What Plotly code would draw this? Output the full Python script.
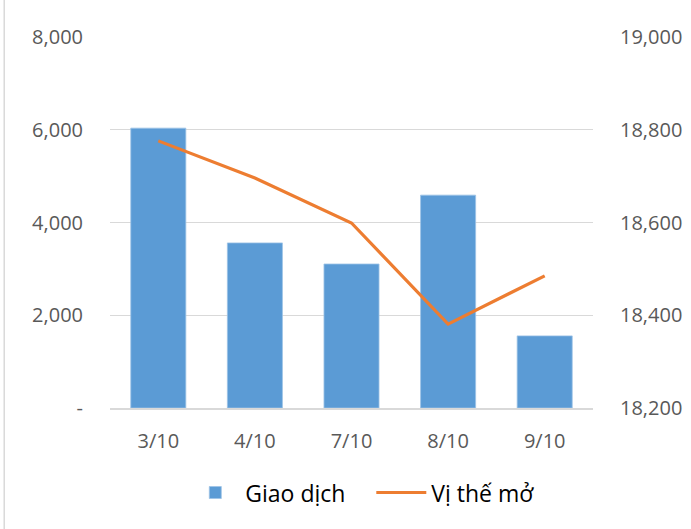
import plotly.graph_objects as go

categories = ["3/10", "4/10", "7/10", "8/10", "9/10"]
giao_dich = [6035, 3560, 3105, 4590, 1555]
vi_the_mo = [18776, 18696, 18599, 18381, 18485]

left_ticks = [0, 2000, 4000, 6000, 8000]
left_labels = ["-", "2,000", "4,000", "6,000", "8,000"]
right_ticks = [18200, 18400, 18600, 18800, 19000]
right_labels = ["18,200", "18,400", "18,600", "18,800", "19,000"]

FONT = "Open Sans"

fig = go.Figure()
fig.add_trace(go.Bar(
    x=categories, y=giao_dich, name="Giao dịch",
    marker=dict(color="#5B9BD5", line=dict(color="#9DC3E6", width=0.8)),
    yaxis="y",
))
fig.add_trace(go.Scatter(
    x=categories, y=vi_the_mo, name="Vị thế mở", mode="lines",
    line=dict(color="#ED7D31", width=3.2),
    yaxis="y2",
))

fig.update_layout(
    width=691, height=529,
    margin=dict(l=110, r=98, t=37, b=121, autoexpand=False),
    paper_bgcolor="white", plot_bgcolor="white",
    bargap=0.43,
    font=dict(family=FONT, size=20, color="#595959"),
    xaxis=dict(showgrid=False, showline=True, linecolor="#D9D9D9", linewidth=1.5,
               ticks="", tickfont=dict(size=20, color="#595959"),
               ticklabelstandoff=14, automargin=False),
    yaxis=dict(range=[0, 8000], tickvals=left_ticks, ticktext=left_labels,
               showgrid=True, gridcolor="#D9D9D9", gridwidth=1.2, zeroline=False,
               ticks="", ticklabelstandoff=26, automargin=False,
               tickfont=dict(size=20, color="#595959")),
    yaxis2=dict(range=[18200, 19000], tickvals=right_ticks, ticktext=right_labels,
                overlaying="y", side="right", showgrid=False, zeroline=False,
                ticks="", ticklabelstandoff=26, automargin=False,
                tickfont=dict(size=20, color="#595959")),
    legend=dict(orientation="h", x=0.541, xanchor="center", y=-0.17, yanchor="top",
                font=dict(size=23, color="#000000"), traceorder="normal",
                itemwidth=50, entrywidth=121, entrywidthmode="pixels"),
    showlegend=True,
    shapes=[dict(type="line", xref="paper", yref="paper",
                 x0=-0.219, x1=-0.219, y0=-0.33, y1=1.1,
                 line=dict(color="#D9D9D9", width=1.5))],
)

fig.write_html("out.html",
               config={"displayModeBar": False},
               post_script="document.body.style.margin='0';document.body.style.overflow='hidden';")
